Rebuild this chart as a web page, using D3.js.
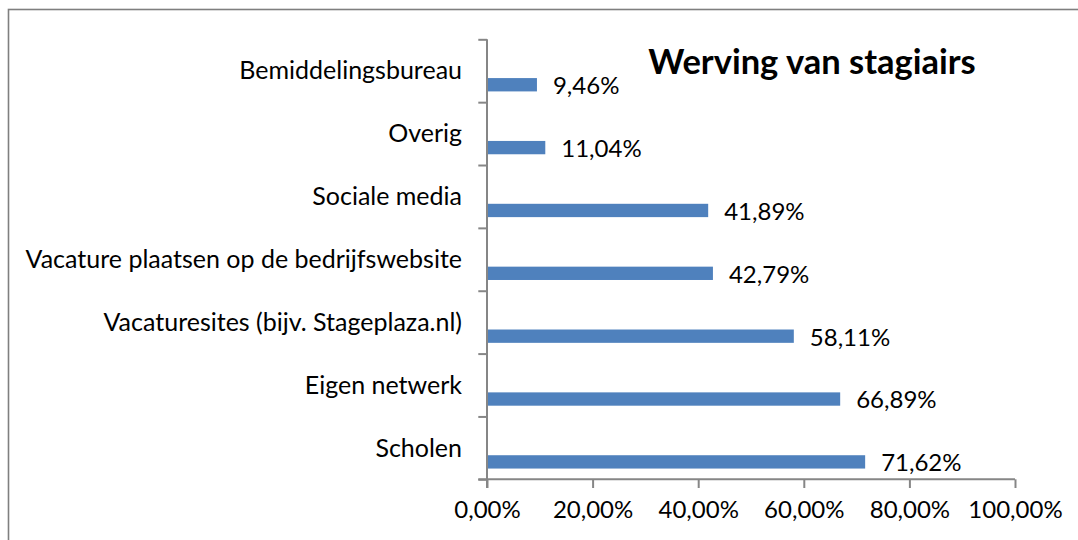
<!DOCTYPE html>
<html>
<head>
<meta charset="utf-8">
<title>Werving van stagiairs</title>
<script src="https://cdn.jsdelivr.net/npm/d3@7"></script>
<style>
  body { margin: 0; background: #fff; }
  svg text { font-family: Lato, "Open Sans", sans-serif; fill: #000; }
</style>
</head>
<body>
<div id="chart"></div>
<script>
  const width = 1078, height = 540;
  const margin = { top: 39.3, right: 63, bottom: 60.7, left: 487 };

  // data, top to bottom
  const categories = ["Bemiddelingsbureau", "Overig", "Sociale media",
    "Vacature plaatsen op de bedrijfswebsite", "Vacaturesites (bijv. Stageplaza.nl)",
    "Eigen netwerk", "Scholen"];
  const values = [0.0946, 0.1104, 0.4189, 0.4279, 0.5811, 0.6689, 0.7162];
  const xTicks = [0, 0.2, 0.4, 0.6, 0.8, 1.0];
  const title = "Werving van stagiairs";

  const nl = d3.formatLocale({ decimal: ",", thousands: ".", grouping: [3], currency: ["€", ""] });
  const pct = nl.format(".2%");

  const svg = d3.select("#chart").append("svg")
    .attr("width", width)
    .attr("height", height);

  // chart border
  svg.append("rect")
    .attr("x", 8.5).attr("y", 9.5)
    .attr("width", 1200).attr("height", 700)
    .attr("fill", "none")
    .attr("stroke", "#7f7f7f")
    .attr("stroke-width", 1.6);

  const x = d3.scaleLinear()
    .domain([0, 1])
    .range([margin.left, width - margin.right]);

  const y = d3.scaleBand()
    .domain(categories)
    .range([margin.top, height - margin.bottom])
    .paddingInner(0).paddingOuter(0);

  const yIdx = d3.scaleLinear()
    .domain([0, categories.length])
    .range([margin.top, height - margin.bottom]);

  const axisColor = "#868686";

  // bars
  svg.append("g")
    .selectAll("rect")
    .data(categories)
    .join("rect")
    .attr("x", x(0))
    .attr("y", d => y(d) + y.bandwidth() * 0.617)
    .attr("width", (d, i) => x(values[i]) - x(0))
    .attr("height", y.bandwidth() * 0.212)
    .attr("fill", "#4f81bd");

  // x axis
  const gx = svg.append("g")
    .attr("transform", `translate(0,${height - margin.bottom})`)
    .call(d3.axisBottom(x).tickValues(xTicks).tickFormat(pct).tickSize(8.7).tickSizeOuter(0));
  gx.select(".domain").remove();
  gx.append("line")
    .attr("x1", margin.left - 8.7).attr("x2", x(1))
    .attr("stroke", axisColor).attr("stroke-width", 2);
  gx.selectAll(".tick line").attr("stroke", axisColor).attr("stroke-width", 2);
  gx.selectAll(".tick text")
    .attr("y", 30)
    .attr("dy", "0.35em")
    .attr("font-size", 24)
    .attr("font-family", "Lato, sans-serif")
    .attr("fill", "#000");

  // y axis (ticks on category boundaries)
  const gy = svg.append("g")
    .attr("transform", `translate(${margin.left},0)`)
    .call(d3.axisLeft(yIdx).tickValues(d3.range(categories.length + 1)).tickFormat("").tickSize(8.7).tickSizeOuter(0));
  gy.select(".domain").remove();
  gy.append("line")
    .attr("y1", margin.top).attr("y2", height - margin.bottom + 8.7)
    .attr("stroke", axisColor).attr("stroke-width", 2);
  gy.selectAll(".tick line").attr("stroke", axisColor).attr("stroke-width", 2);

  // category labels
  svg.append("g")
    .selectAll("text")
    .data(categories)
    .join("text")
    .attr("x", margin.left - 25)
    .attr("y", d => y(d) + y.bandwidth() / 2)
    .attr("dy", "0.35em")
    .attr("text-anchor", "end")
    .attr("font-size", 25)
    .text(d => d);

  // value labels
  svg.append("g")
    .selectAll("text")
    .data(categories)
    .join("text")
    .attr("x", (d, i) => x(values[i]) + 16)
    .attr("y", d => y(d) + y.bandwidth() * 0.723 + 1)
    .attr("dy", "0.35em")
    .attr("font-size", 24)
    .text((d, i) => pct(values[i]));

  // title
  svg.append("text")
    .attr("x", 812)
    .attr("y", 62)
    .attr("dy", "0.35em")
    .attr("text-anchor", "middle")
    .attr("font-size", 34.5)
    .attr("font-weight", "bold")
    .text(title);
</script>
</body>
</html>
